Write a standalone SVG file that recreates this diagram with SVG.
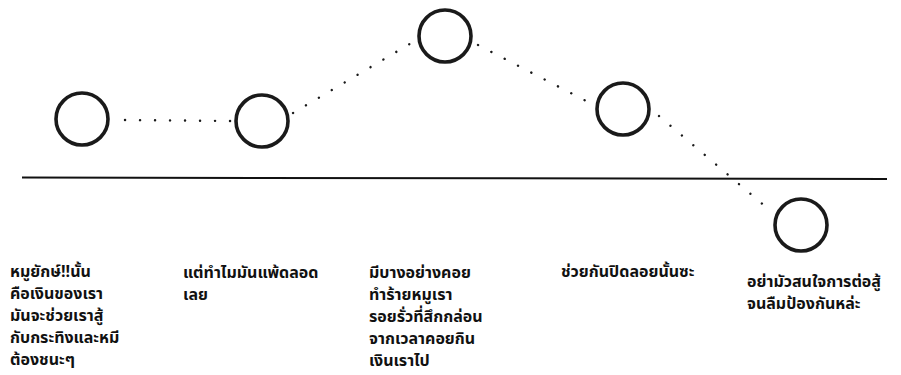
<svg xmlns="http://www.w3.org/2000/svg" width="901" height="375" viewBox="0 0 901 375">
<style>
.node{fill:none;stroke:#1a1a1a;stroke-width:3.6}
.dot{fill:none;stroke:#1a1a1a;stroke-width:2.4;stroke-linecap:round;stroke-dasharray:0.1 14.9}
.lbl{font-family:"Noto Sans Thai","Noto Sans","DejaVu Sans",sans-serif;font-size:16px;font-weight:bold;fill:#111}
</style>
<rect width="901" height="375" fill="#fff"/>
<line x1="22" y1="177.5" x2="887" y2="179" stroke="#111" stroke-width="2"/>
<g id="connectors">
<line class="dot" x1="125" y1="120" x2="232" y2="121"/>
<line class="dot" x1="293" y1="113" x2="413" y2="42"/>
<line class="dot" x1="478" y1="45" x2="592" y2="104"/>
<line class="dot" x1="659" y1="116" x2="773" y2="213"/>
</g>
<g id="n1"><circle class="node" cx="82" cy="119" r="26"/>
<text class="lbl"><tspan x="10" y="277">หมูยักษ์!!นั้น</tspan><tspan x="10" y="299">คือเงินของเรา</tspan><tspan x="10" y="321">มันจะช่วยเราสู้</tspan><tspan x="10" y="343">กับกระทิงและหมี</tspan><tspan x="10" y="365">ต้องชนะๆ</tspan></text></g>
<g id="n2"><circle class="node" cx="262" cy="121" r="26"/>
<text class="lbl"><tspan x="183" y="278">แต่ทำไมมันแพ้ดลอด</tspan><tspan x="183" y="300">เลย</tspan></text></g>
<g id="n3"><circle class="node" cx="445" cy="36" r="26"/>
<text class="lbl"><tspan x="369" y="278">มีบางอย่างคอย</tspan><tspan x="369" y="300">ทำร้ายหมูเรา</tspan><tspan x="369" y="322">รอยรั่วที่สึกกล่อน</tspan><tspan x="369" y="344">จากเวลาคอยกิน</tspan><tspan x="369" y="366">เงินเราไป</tspan></text></g>
<g id="n4"><circle class="node" cx="623" cy="109" r="26"/>
<text class="lbl"><tspan x="561" y="277">ช่วยกันปิดลอยนั้นซะ</tspan></text></g>
<g id="n5"><circle class="node" cx="801" cy="225" r="26"/>
<text class="lbl"><tspan x="747" y="287">อย่ามัวสนใจการต่อสู้</tspan><tspan x="747" y="309">จนลืมป้องกันหล่ะ</tspan></text></g>
</svg>
